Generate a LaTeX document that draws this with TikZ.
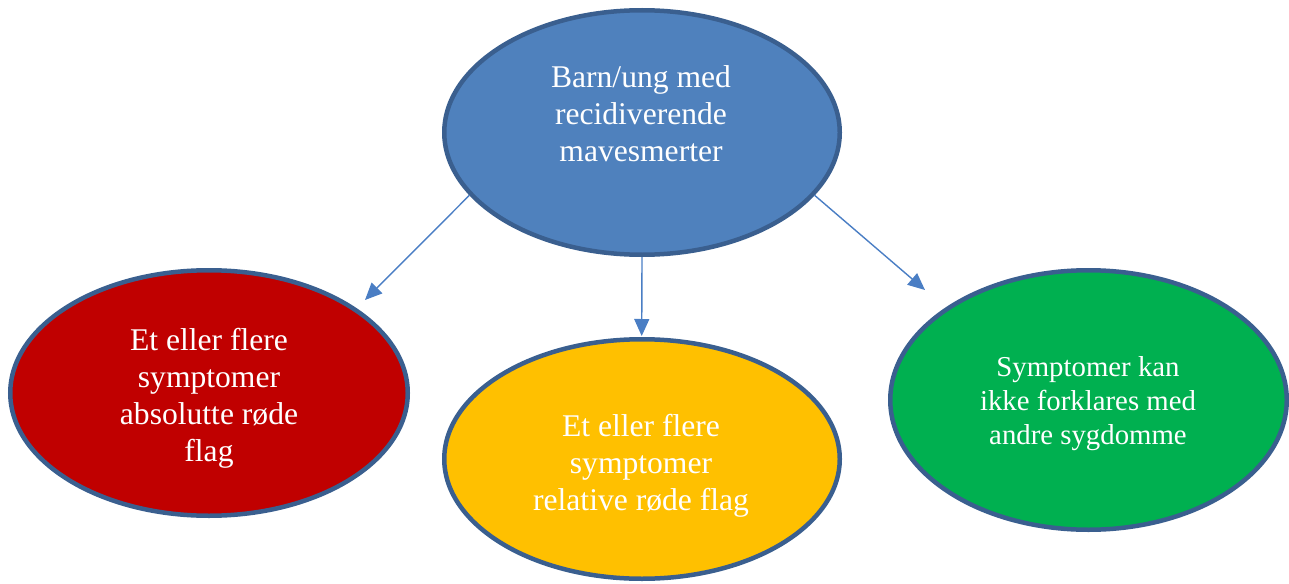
\documentclass[tikz,border=0pt]{standalone}
\usepackage{fontspec}
\setmainfont{Liberation Serif}
\usetikzlibrary{shapes.geometric,arrows.meta}
\definecolor{outl}{HTML}{3A5F8F}
\definecolor{topfill}{HTML}{4F81BD}
\definecolor{redfill}{HTML}{C00000}
\definecolor{yelfill}{HTML}{FFC000}
\definecolor{grnfill}{HTML}{00B050}
\definecolor{arrowc}{HTML}{4A7EC4}
\begin{document}
\begin{tikzpicture}[x=1pt,y=-1pt,
  bubble/.style={ellipse, draw=outl, line width=4.5pt, inner sep=0pt},
  txt/.style={text=white, align=center, inner sep=0pt, font=\fontsize{31.6}{37}\selectfont},
  txtsmall/.style={text=white, align=center, inner sep=0pt, font=\fontsize{28.8}{34}\selectfont},
  conn/.style={draw=arrowc, line width=1.4pt, -{Triangle[length=17pt,width=15pt]}}]
\useasboundingbox (0,0) rectangle (1289,583);

\node[bubble, fill=topfill, minimum width=395.5pt, minimum height=244.5pt] (top) at (642,132.5) {};
\node[bubble, fill=redfill, minimum width=397.5pt, minimum height=245.5pt] (red) at (209,393) {};
\node[bubble, fill=yelfill, minimum width=395.5pt, minimum height=239.5pt] (yel) at (642,459) {};
\node[bubble, fill=grnfill, minimum width=396.5pt, minimum height=259.5pt] (grn) at (1088.5,400) {};

\node[txt] (t0) at (641,113.9) {Barn/ung med\\recidiverende\\mavesmerter};
\node[txt] (t1) at (209,398.5) {Et eller flere\\symptomer\\absolutte røde\\flag};
\node[txt] (t2) at (641,466) {Et eller flere\\symptomer\\relative røde flag};
\node[txtsmall] (t3) at (1088,404.1) {Symptomer kan\\ikke forklares med\\andre sygdomme};

\coordinate (e1) at (365,300);
\coordinate (e2) at (641.7,336);
\coordinate (e3) at (925,290);

\draw[conn] (top.200.6) -- (e1);
\draw[conn] (top.south) -- (e2);
\draw[conn] (top.-20.5) -- (e3);
\end{tikzpicture}
\end{document}
